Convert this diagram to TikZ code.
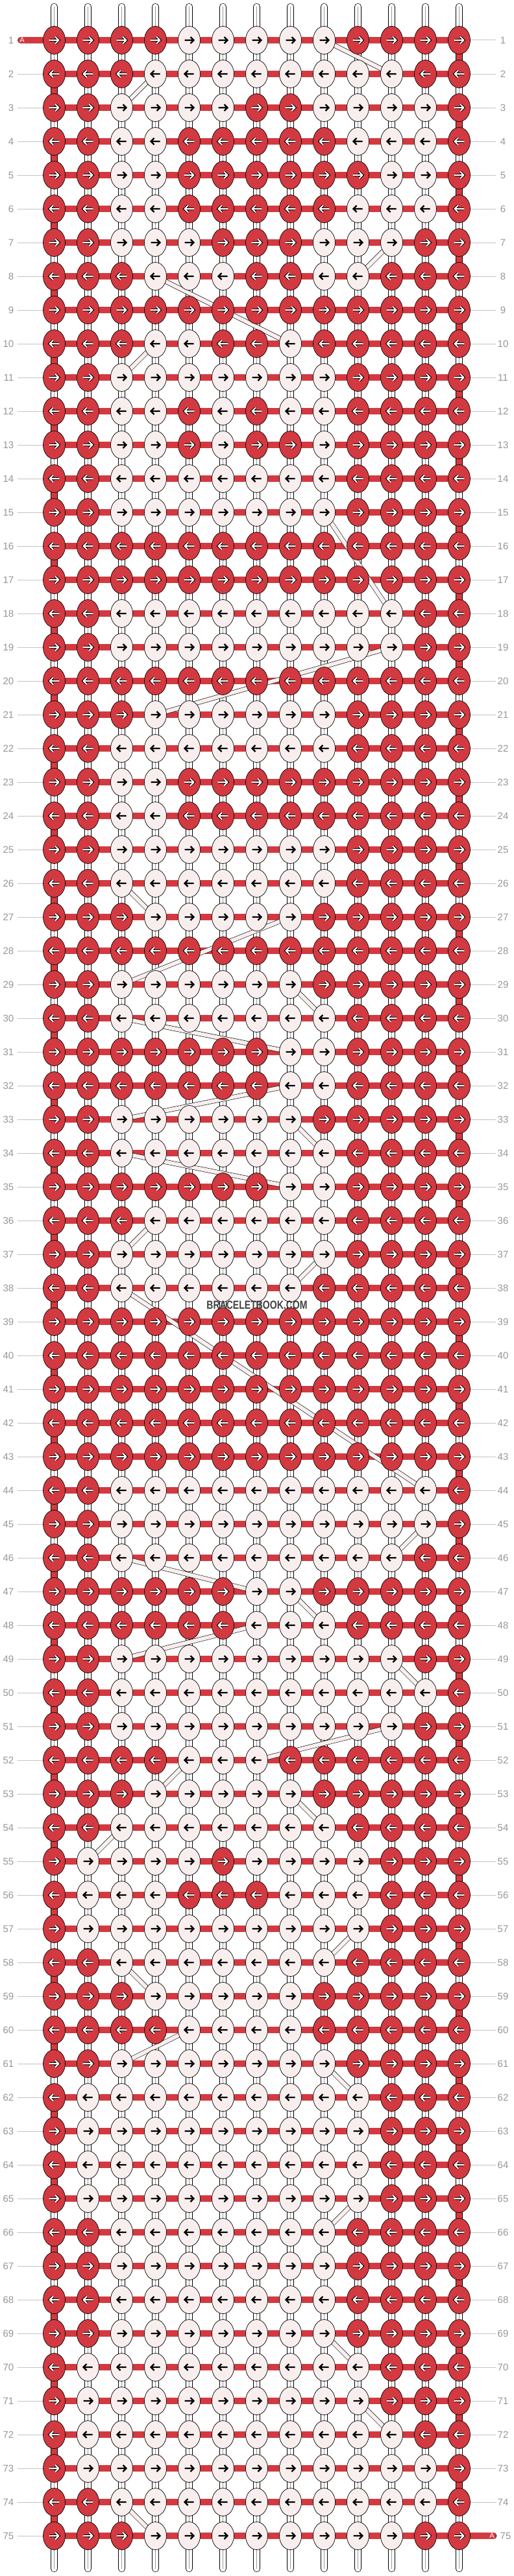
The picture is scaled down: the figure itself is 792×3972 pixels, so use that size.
\documentclass[tikz,border=0pt]{standalone}
\usepackage{fontspec}
\setmainfont{Liberation Sans}
\usetikzlibrary{shapes.geometric}

\definecolor{knotred}{RGB}{211,57,64}
\definecolor{knotlight}{RGB}{249,238,238}
\definecolor{labelgray}{RGB}{150,150,150}
\definecolor{linegray}{RGB}{195,195,195}

\pgfdeclarelayer{bg}
\pgfdeclarelayer{mid}
\pgfsetlayers{bg,mid,main}

\begin{document}
\begin{tikzpicture}[
  x=1pt, y=-1pt,
  knotR/.style={ellipse, draw, line width=0.7pt, fill=knotred, minimum width=34pt, minimum height=43pt, inner sep=0pt},
  knotW/.style={knotR, fill=knotlight},
  tipR/.style={draw=white, line width=2.1pt, line cap=round, line join=round, preaction={draw=black, line width=4.1pt}},
  tipW/.style={draw=black, line width=2.2pt, line join=miter},
  strand/.style={line width=0.7pt, double=white, double distance=9.6pt, line cap=round},
  midline/.style={draw=black!40, line width=0.4pt},
  hbar/.style={line width=0.7pt, double=knotred, double distance=9.4pt},
  diag/.style={line width=0.6pt, double=knotlight, double distance=6pt},
  rowlab/.style={font=\fontsize{15}{15}\selectfont, text=labelgray, inner sep=0pt},
  rowline/.style={draw=linegray, line width=1pt}
]
\useasboundingbox (0,0) rectangle (792,3972);

% Knots, one row per line
\foreach \r/\pat in {
  1/{R,R,R,R,W,W,W,W,W,R,R,R,R},
  2/{R,R,R,W,W,W,W,W,W,W,W,R,R},
  3/{R,R,W,W,W,W,R,R,W,W,W,W,R},
  4/{R,R,W,W,R,R,R,R,R,W,W,W,R},
  5/{R,R,W,W,R,R,R,R,R,R,W,W,R},
  6/{R,R,W,W,R,R,R,R,R,W,W,W,R},
  7/{R,R,W,W,W,R,R,R,W,W,W,R,R},
  8/{R,R,R,W,W,W,R,R,W,W,R,R,R},
  9/{R,R,R,R,R,R,R,R,R,R,R,R,R},
  10/{R,R,R,W,W,R,R,W,R,R,R,R,R},
  11/{R,R,W,W,W,W,W,W,W,R,R,R,R},
  12/{R,R,W,W,R,W,R,W,W,R,R,R,R},
  13/{R,R,W,W,R,W,R,R,W,R,R,R,R},
  14/{R,R,W,W,W,W,W,W,W,R,R,R,R},
  15/{R,R,W,W,W,W,W,W,W,R,R,R,R},
  16/{R,R,R,R,R,R,R,R,R,R,R,R,R},
  17/{R,R,R,R,R,R,R,R,R,R,R,R,R},
  18/{R,R,W,W,W,W,W,W,W,W,W,R,R},
  19/{R,R,W,W,W,W,W,W,W,W,W,R,R},
  20/{R,R,R,R,R,R,R,R,R,R,R,R,R},
  21/{R,R,R,W,W,W,W,W,W,R,R,R,R},
  22/{R,R,W,W,W,W,W,W,W,R,R,R,R},
  23/{R,R,W,W,R,R,R,R,R,R,R,R,R},
  24/{R,R,W,W,R,R,R,R,R,R,R,R,R},
  25/{R,R,W,W,W,W,W,W,W,R,R,R,R},
  26/{R,R,W,W,W,W,W,W,W,R,R,R,R},
  27/{R,R,R,W,W,W,W,W,R,R,R,R,R},
  28/{R,R,R,R,R,R,R,R,R,R,R,R,R},
  29/{R,R,W,W,W,W,W,W,R,R,R,R,R},
  30/{R,R,W,W,W,W,W,W,W,R,R,R,R},
  31/{R,R,R,R,R,R,R,W,W,R,R,R,R},
  32/{R,R,R,R,R,R,R,W,W,R,R,R,R},
  33/{R,R,W,W,W,W,W,W,R,R,R,R,R},
  34/{R,R,W,W,W,W,W,W,W,R,R,R,R},
  35/{R,R,R,R,R,R,R,W,W,R,R,R,R},
  36/{R,R,R,W,W,W,W,W,W,R,R,R,R},
  37/{R,R,W,W,W,W,W,W,W,R,R,R,R},
  38/{R,R,W,W,W,W,W,W,R,R,R,R,R},
  39/{R,R,R,R,R,R,R,R,R,R,R,R,R},
  40/{R,R,R,R,R,R,R,R,R,R,R,R,R},
  41/{R,R,R,R,R,R,R,R,R,R,R,R,R},
  42/{R,R,R,R,R,R,R,R,R,R,R,R,R},
  43/{R,R,R,R,R,R,R,R,R,R,R,R,R},
  44/{R,R,W,W,W,W,W,W,W,W,W,W,R},
  45/{R,R,W,W,W,W,W,W,W,W,W,W,R},
  46/{R,R,W,W,W,W,W,W,W,W,W,R,R},
  47/{R,R,R,R,R,R,W,W,R,R,R,R,R},
  48/{R,R,R,R,R,R,W,W,W,R,R,R,R},
  49/{R,R,W,W,W,W,W,W,W,W,W,R,R},
  50/{R,R,W,W,W,W,W,W,W,W,W,W,R},
  51/{R,R,W,W,W,W,W,W,W,W,W,R,R},
  52/{R,R,R,R,W,W,W,R,R,R,R,R,R},
  53/{R,R,R,W,W,W,W,W,R,R,R,R,R},
  54/{R,R,W,W,W,W,W,W,W,R,R,R,R},
  55/{R,W,W,W,W,R,W,W,W,W,R,R,R},
  56/{R,W,W,W,R,R,R,W,W,W,R,R,R},
  57/{R,W,W,W,W,W,W,W,W,W,R,R,R},
  58/{R,R,W,W,W,W,W,W,W,R,R,R,R},
  59/{R,R,R,W,W,W,W,W,R,R,R,R,R},
  60/{R,R,R,R,W,W,W,W,R,R,R,R,R},
  61/{R,R,W,W,W,W,W,W,W,R,R,R,R},
  62/{R,W,W,W,W,W,W,W,W,W,R,R,R},
  63/{R,W,W,W,W,W,W,W,W,W,R,R,R},
  64/{R,W,W,W,W,W,W,W,W,W,R,R,R},
  65/{R,W,W,W,W,W,W,W,W,W,R,R,R},
  66/{R,R,W,W,W,W,W,W,W,R,R,R,R},
  67/{R,R,W,W,W,W,W,W,W,R,R,R,R},
  68/{R,R,W,W,W,W,W,W,W,R,R,R,R},
  69/{R,R,W,W,W,W,W,W,W,R,R,R,R},
  70/{R,W,W,W,W,W,W,W,W,W,R,R,R},
  71/{R,W,W,W,W,W,W,W,W,W,R,R,R},
  72/{R,W,W,W,W,W,W,W,W,W,W,R,R},
  73/{R,W,W,W,W,W,W,W,W,W,W,W,R},
  74/{R,R,W,W,W,W,W,W,W,W,W,W,R},
  75/{R,R,R,W,W,W,W,W,W,W,W,R,R}} {
  \pgfmathsetmacro\y{62+52*(\r-1)}
  \pgfmathsetmacro\s{ifthenelse(mod(\r,2)==1,1,-1)}
  \foreach \v [count=\c] in \pat {
    \pgfmathsetmacro\x{83.5+52*(\c-1)}
    \node[knot\v] (k-\r-\c) at (\x,\y) {};
    \draw[tip\v] ({\x-7*\s},\y) -- ({\x+7*\s},\y)
      ({\x+2*\s},{\y-5}) -- ({\x+7*\s},\y) -- ({\x+2*\s},{\y+5});
  }
  % row numbers
  \node[rowlab, anchor=east] (ll-\r) at (21.5,\y) {\r};
  \coordinate (le-\r) at (27,\y);
  \coordinate (re-\r) at (764,\y);
}

% Right row numbers
\foreach \r in {1,...,74}
  \node[rowlab] (rl-\r) at (775,{62+52*(\r-1)}) {\r};
\node[rowlab] (rl-75) at (779,3910) {75};

% Guide lines
\foreach \r in {2,...,75}
  \draw[rowline] (le-\r) -- (k-\r-1);
\foreach \r in {1,...,74}
  \draw[rowline] (k-\r-13) -- (re-\r);

% Vertical strings
\begin{pgfonlayer}{bg}
\foreach \c in {1,...,13} {
  \coordinate (top-\c) at ({83.5+52*(\c-1)},10.5);
  \coordinate (bot-\c) at ({83.5+52*(\c-1)},3960.5);
  \draw[strand] (top-\c) -- (bot-\c);
  \draw[midline] (top-\c) -- (bot-\c);
}
\end{pgfonlayer}

\begin{pgfonlayer}{mid}
% Background string A
\foreach \r in {1,...,75}
  \draw[hbar] (k-\r-1.center) -- (k-\r-13.center);
\foreach \r in {1,...,74} {
  \pgfmathtruncatemacro\e{ifthenelse(mod(\r,2)==1,13,1)}
  \pgfmathtruncatemacro\n{\r+1}
  \draw[hbar] (k-\r-\e.center) -- (k-\n-\e.center);
}
\coordinate (a-in) at (32.5,62);
\coordinate (a-out) at (760,3910);
\draw[hbar, line cap=round] (a-in) -- (k-1-1.center);
\draw[hbar, line cap=round] (k-75-13.center) -- (a-out);

% Moved strings
\foreach \ra/\ca/\rb/\cb in {1/9/2/11, 2/4/3/3, 7/11/8/10, 8/4/10/8, 10/4/11/3,
  15/9/18/11, 19/11/21/4, 26/3/27/4, 27/8/29/3, 29/8/30/9, 30/3/31/8,
  32/8/33/3, 33/8/34/9, 34/3/35/8, 36/4/37/3, 37/9/38/8, 38/3/44/12,
  45/12/46/11, 46/3/47/7, 47/8/48/9, 48/7/49/3, 49/11/50/12, 51/11/52/7,
  52/5/53/4, 53/8/54/9, 54/3/55/2, 57/10/58/9, 58/3/59/4, 60/5/61/3,
  61/9/62/10, 65/10/66/9, 69/9/70/10, 71/10/72/11, 74/3/75/4}
  \draw[diag] (k-\ra-\ca.center) -- (k-\rb-\cb.center);
\end{pgfonlayer}

% Labels
\node[text=white, font=\fontsize{11}{11}\selectfont, inner sep=0pt] (a-lab-in) at (34,62) {A};
\node[text=white, font=\fontsize{11}{11}\selectfont, inner sep=0pt] (a-lab-out) at (758,3910) {A};
\node[text=black!75, font=\fontsize{18}{18}\selectfont\bfseries, inner sep=0pt] (mark) at (396,2012)
  {\scalebox{0.78}[1]{BRACELETBOOK.COM}};

\end{tikzpicture}
\end{document}
